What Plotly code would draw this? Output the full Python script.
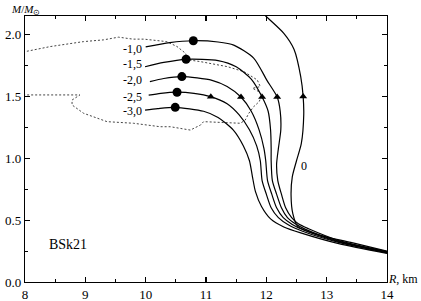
import plotly.graph_objects as go

# ---- data (R in km, M in solar masses) ----
curve_labels = ["-1,0", "-1,5", "-2,0", "-2,5", "-3,0", "0"]

R_m10 = [10.00, 10.40, 10.79, 11.20, 11.46, 11.79, 12.01, 12.18, 12.23, 12.24, 12.20, 12.17, 12.19, 12.25, 12.32, 12.42, 12.53, 12.70, 13.20, 14.00]
M_m10 = [1.900, 1.935, 1.950, 1.940, 1.915, 1.810, 1.630, 1.495, 1.380, 1.230, 1.080, 0.950, 0.820, 0.710, 0.600, 0.520, 0.470, 0.430, 0.335, 0.246]

R_m15 = [9.99, 10.30, 10.67, 11.20, 11.50, 11.75, 11.93, 12.03, 12.07, 12.08, 12.08, 12.10, 12.17, 12.25, 12.35, 12.48, 12.65, 13.20, 14.00]
M_m15 = [1.740, 1.775, 1.800, 1.790, 1.740, 1.640, 1.495, 1.380, 1.230, 1.080, 0.980, 0.820, 0.710, 0.600, 0.520, 0.470, 0.425, 0.330, 0.243]

R_m20 = [10.07, 10.30, 10.60, 11.10, 11.35, 11.58, 11.75, 11.88, 11.96, 11.99, 12.02, 12.09, 12.17, 12.28, 12.43, 12.62, 13.20, 14.00]
M_m20 = [1.620, 1.645, 1.660, 1.630, 1.580, 1.495, 1.380, 1.230, 1.080, 0.980, 0.820, 0.710, 0.600, 0.520, 0.465, 0.420, 0.325, 0.240]

R_m25 = [10.05, 10.25, 10.52, 10.80, 11.08, 11.35, 11.55, 11.72, 11.84, 11.90, 11.93, 12.00, 12.08, 12.20, 12.37, 12.60, 13.20, 14.00]
M_m25 = [1.510, 1.525, 1.534, 1.525, 1.498, 1.440, 1.350, 1.230, 1.100, 0.980, 0.820, 0.710, 0.600, 0.520, 0.460, 0.410, 0.320, 0.236]

R_m30 = [9.99, 10.20, 10.49, 10.96, 11.20, 11.45, 11.62, 11.72, 11.77, 11.82, 11.92, 12.07, 12.29, 12.57, 13.20, 14.00]
M_m30 = [1.390, 1.402, 1.412, 1.380, 1.330, 1.230, 1.100, 0.980, 0.850, 0.730, 0.610, 0.510, 0.445, 0.397, 0.310, 0.232]

R_0 = [11.85, 11.99, 12.29, 12.46, 12.57, 12.61, 12.62, 12.58, 12.50, 12.43, 12.41, 12.44, 12.52, 12.80, 13.40, 14.00]
M_0 = [2.220, 2.150, 2.010, 1.880, 1.660, 1.500, 1.350, 1.120, 0.980, 0.850, 0.700, 0.550, 0.450, 0.390, 0.320, 0.249]

# maximum-mass points (circles)
max_R = [10.79, 10.67, 10.60, 10.52, 10.49]
max_M = [1.950, 1.800, 1.660, 1.534, 1.412]

# M = 1.5 points (triangles)
tri_R = [11.08, 11.58, 11.93, 12.18, 12.61]
tri_M = [1.498, 1.495, 1.495, 1.495, 1.500]

# dotted contour
cont_R = [7.90, 8.00, 8.42, 8.97, 9.30, 9.55, 9.79, 9.97, 10.35, 10.52, 10.66, 10.70, 10.91, 11.35, 11.63,
          11.85, 11.90, 11.77, 11.88, 11.93, 11.88, 11.79, 11.71, 11.65, 11.57, 10.96, 10.91, 10.74, 10.41,
          10.24, 9.80, 9.36, 8.97, 8.78, 8.78, 8.91, 8.47, 8.03, 7.90]
cont_M = [1.855, 1.862, 1.903, 1.943, 1.957, 1.979, 1.963, 1.963, 1.943, 1.903, 1.849, 1.796, 1.781, 1.741, 1.700,
          1.633, 1.579, 1.566, 1.538, 1.512, 1.457, 1.417, 1.364, 1.309, 1.283, 1.296, 1.269, 1.228, 1.255,
          1.255, 1.283, 1.296, 1.364, 1.431, 1.471, 1.512, 1.512, 1.512, 1.512]

label_R = [9.97, 9.97, 9.97, 9.97, 9.97, 12.62]
label_M = [1.884, 1.763, 1.633, 1.494, 1.382, 0.937]

FONT = "Liberation Serif, 'Times New Roman', Times, serif"

fig = go.Figure()

fig.add_trace(go.Scatter(x=cont_R, y=cont_M, mode="lines",
                         line=dict(color="#444444", width=1, dash="2px,2px"),
                         hoverinfo="skip"))

for R, M in [(R_m10, M_m10), (R_m15, M_m15), (R_m20, M_m20), (R_m25, M_m25), (R_m30, M_m30), (R_0, M_0)]:
    fig.add_trace(go.Scatter(x=R, y=M, mode="lines",
                             line=dict(color="black", width=1.2, shape="spline", smoothing=0.7)))

fig.add_trace(go.Scatter(x=max_R, y=max_M, mode="markers",
                         marker=dict(symbol="circle", size=9, color="black")))
fig.add_trace(go.Scatter(x=tri_R, y=tri_M, mode="markers",
                         marker=dict(symbol="triangle-up", size=7, color="black")))

for i, txt in enumerate(curve_labels):
    fig.add_annotation(x=label_R[i], y=label_M[i], text=txt, showarrow=False,
                       xanchor="right" if txt != "0" else "center", yanchor="middle",
                       font=dict(family=FONT, size=12, color="black"))

fig.add_annotation(x=8.72, y=0.30, text="BSk21", showarrow=False,
                   font=dict(family=FONT, size=14, color="black"))

fig.add_annotation(xref="paper", yref="paper", x=-0.045, y=1.058, xanchor="left", yanchor="top",
                   text="<i>M</i>/<i>M</i><sub>⊙</sub>", showarrow=False,
                   font=dict(family=FONT, size=11, color="black"))
fig.add_annotation(xref="paper", yref="paper", x=1.092, y=0.01, xanchor="right", yanchor="middle",
                   text="<i>R</i>, km", showarrow=False,
                   font=dict(family=FONT, size=12, color="black"))

axis_common = dict(showgrid=False, zeroline=False, showline=True, linecolor="black", linewidth=1.2,
                   mirror="allticks", ticks="inside", ticklen=5, tickwidth=1.1, tickcolor="black",
                   automargin=False,
                   tickfont=dict(family=FONT, size=13, color="black"))

fig.update_xaxes(range=[8, 14], dtick=1, tick0=8,
                 minor=dict(ticks="inside", dtick=0.5, ticklen=3, tickcolor="black", tickwidth=1),
                 **axis_common)
fig.update_yaxes(range=[0, 2.15], dtick=0.5, tick0=0, tickformat=".1f",
                 minor=dict(ticks="inside", dtick=0.25, ticklen=3, tickcolor="black", tickwidth=1),
                 **axis_common)

fig.update_layout(width=421, height=301, showlegend=False, hovermode=False,
                  margin=dict(l=25, r=34, t=16, b=19, autoexpand=False),
                  plot_bgcolor="white", paper_bgcolor="white",
                  font=dict(family=FONT, color="black"))

fig.write_html("out.html", config={"displayModeBar": False, "staticPlot": True},
               post_script="document.body.style.margin='0';document.body.style.overflow='hidden';")
